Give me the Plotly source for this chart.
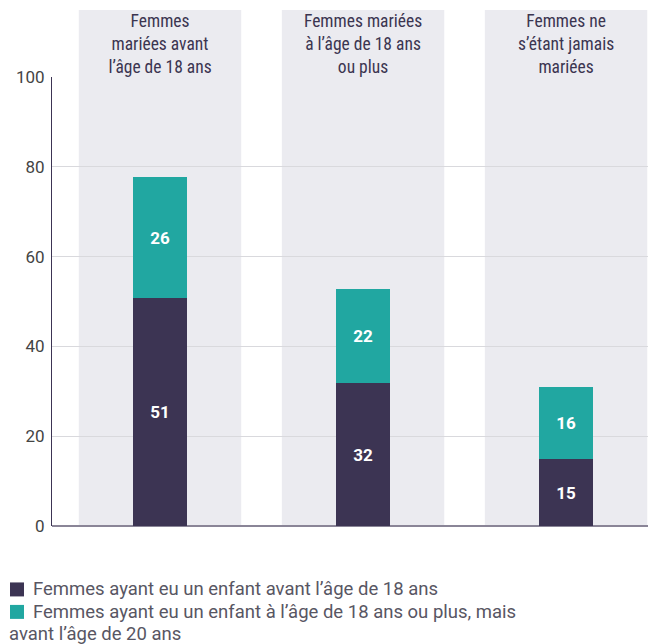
import plotly.graph_objects as go

# Data
categories = [
    "Femmes<br>mariées avant<br>l’âge de 18 ans",
    "Femmes mariées<br>à l’âge de 18 ans<br>ou plus",
    "Femmes ne<br>s’étant jamais<br>mariées",
]
before_18 = [50.8, 31.8, 14.9]
from_18_to_20 = [26.9, 20.9, 16.0]
before_18_labels = ["51", "32", "15"]
from_18_to_20_labels = ["26", "22", "16"]
series_names = [
    "Femmes ayant eu un enfant avant l’âge de 18 ans",
    "Femmes ayant eu un enfant à l’âge de 18 ans ou plus, mais\navant l’âge de 20 ans",
]
y_ticks = [0, 20, 40, 60, 80, 100]

DARK = "#3c3453"
TEAL = "#21a7a1"
PANEL = "#ebebf0"
TEXT = "#3b3550"
COND = "Roboto Condensed, Liberation Sans Narrow, Roboto, sans-serif"

x_pos = list(range(len(categories)))

fig = go.Figure()
for vals, labels, name, color in [
    (before_18, before_18_labels, series_names[0], DARK),
    (from_18_to_20, from_18_to_20_labels, series_names[1], TEAL),
]:
    fig.add_trace(go.Bar(
        x=x_pos, y=vals, name=name, marker=dict(color=color, line=dict(width=0)),
        width=0.263, text=labels, textposition="inside",
        insidetextanchor="middle", textangle=0,
        textfont=dict(family="Roboto, sans-serif", size=17, color="white", weight="bold"),
        showlegend=False, hoverinfo="skip",
    ))

# grey background panel behind each category
for i in x_pos:
    fig.add_shape(type="rect", xref="x", yref="paper", x0=i - 0.4, x1=i + 0.4,
                  y0=0, y1=1.149, fillcolor=PANEL, line=dict(width=0), layer="below")

# legend drawn by hand (second entry wraps under its swatch)
ph = 449.5  # plot height in px
pw = 604.0
legend_top = 590.0
for k, (name, color) in enumerate(zip(series_names, [DARK, TEAL])):
    lines = name.split("\n")
    y_px = legend_top + k * 22.5
    yc = (526.5 - y_px) / ph
    fig.add_shape(type="rect", xref="paper", yref="paper",
                  x0=(10 - 52) / pw, x1=(24 - 52) / pw,
                  y0=yc - 7 / ph, y1=yc + 7 / ph,
                  fillcolor=color, line=dict(width=0))
    for j, line in enumerate(lines):
        x_px = 31 if j == 0 else 7
        fig.add_annotation(text=line, xref="paper", yref="paper",
                           x=(x_px - 52) / pw, y=(526.5 - (y_px + j * 22.5)) / ph,
                           xanchor="left", yanchor="middle", showarrow=False,
                           font=dict(family="Roboto, sans-serif", size=18.5, color="#585663"))

# page body adds an 8px margin, so the figure is 8px smaller on each axis
fig.update_layout(
    barmode="stack",
    width=648, height=636,
    margin=dict(l=44, r=0, t=69, b=117.5, pad=0, autoexpand=False),
    paper_bgcolor="white", plot_bgcolor="white",
    bargap=0,
    xaxis=dict(
        side="top", range=[-0.532, 2.443], tickvals=x_pos, ticktext=categories,
        showgrid=False, showline=False, zeroline=False, ticks="", automargin=False,
        tickfont=dict(family=COND, size=17.5, color=TEXT),
        fixedrange=True,
    ),
    yaxis=dict(
        range=[0, 100], tickvals=y_ticks, showgrid=True, gridcolor="#d9d9dd", gridwidth=1,
        showline=True, linecolor=DARK, linewidth=1, automargin=False,
        zeroline=True, zerolinecolor="#8a8597", zerolinewidth=2,
        ticks="outside", ticklen=3, tickcolor="rgba(0,0,0,0)",
        tickfont=dict(family="Roboto, sans-serif", size=17, color="#444444"),
        fixedrange=True,
    ),
)

fig.write_html("out.html")
